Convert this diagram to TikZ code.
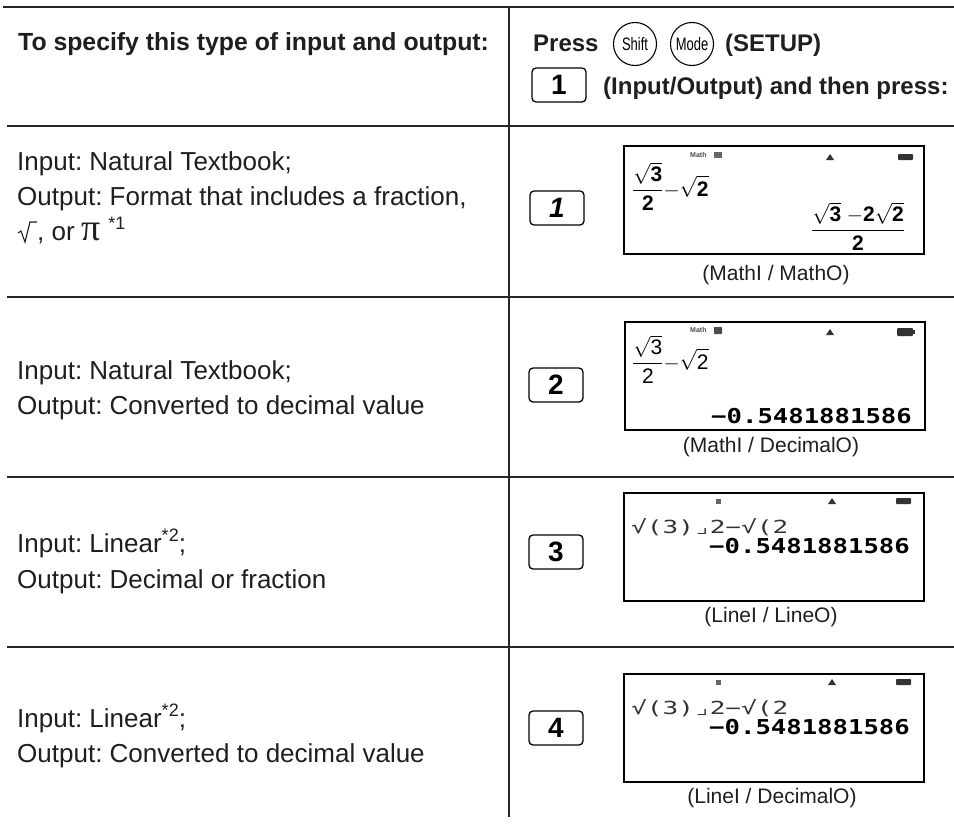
\documentclass[tikz,border=0pt]{standalone}
\usepackage{amsmath}
\usepackage{fontspec}
\setmainfont{Liberation Sans}
\newfontfamily\lcd{DejaVu Sans Mono}[FakeStretch=1.25]
\newfontfamily\lcdw{DejaVu Sans Mono}[FakeStretch=1.45]
\newfontfamily\serifpi{Liberation Serif}
\newcommand\dg[1]{\mbox{\bfseries #1}}
\newcommand\dr[1]{\mbox{#1}}
\newcommand\supmark[1]{\raisebox{11pt}{\fontsize{18}{18}\selectfont #1}}
\frenchspacing
\begin{document}
\begin{tikzpicture}[x=1pt,y=-1pt,
  rule/.style={line width=1.6pt, draw=black!85},
  vrule/.style={line width=1.3pt, draw=black!85},
  hdr/.style={font=\fontsize{24}{28}\selectfont\bfseries, anchor=base west, inner sep=0, text=black!88},
  body/.style={font=\fontsize{26}{30}\selectfont, anchor=base west, inner sep=0, text=black!88},
  keybox/.style={draw, rounded corners=4pt, line width=1.3pt, minimum width=54pt, minimum height=34pt, inner sep=0, font=\fontsize{28}{28}\selectfont\bfseries},
  circkey/.style={draw, circle, line width=1.1pt, minimum size=43pt, inner sep=0, font=\fontsize{18}{18}\selectfont},
  screen/.style={draw, line width=1.6pt, minimum width=300pt, minimum height=108pt, inner sep=0},
  caption/.style={font=\fontsize{21}{24}\selectfont, inner sep=0, text=black!88},
  lcdbig/.style={font=\lcd\bfseries\fontsize{20.5}{20}\selectfont, inner sep=0, anchor=base east},
  lcdline/.style={font=\lcdw\fontsize{18}{18}\selectfont, inner sep=0, anchor=base west, text=black!80},
  mathexpr/.style={font=\fontsize{21}{21}\selectfont, inner sep=0},
  status/.style={font=\fontsize{7}{7}\selectfont\bfseries, inner sep=0, text=black!70},
  radical/.style={line width=1.1pt, draw=black!88, line join=miter},
]
\useasboundingbox (0,0) rectangle (954,825);
\fill[white] (0,0) rectangle (954,825);

% table rules
\draw[rule] (3,7) -- (954,7);
\draw[rule] (7,126) -- (954,126);
\draw[rule] (7,297) -- (954,297);
\draw[rule] (7,477) -- (954,477);
\draw[rule] (7,647) -- (954,647);
\draw[vrule] (509,7) -- (509,817);

% header
\node[hdr, font=\fontsize{24.8}{28}\selectfont\bfseries] (hleft) at (18,50) {To specify this type of input and output:};
\node[hdr] (press) at (533,51) {Press};
\node[circkey] (shift) at (635,44) {\scalebox{0.72}[1]{Shift}};
\node[circkey] (mode) at (692,44) {\scalebox{0.72}[1]{Mode}};
\node[hdr] (setup) at (725,51) {(SETUP)};
\node[keybox] (k0) at (559,85) {1};
\node[hdr] (io) at (603,94) {(Input/Output) and then press:};

% row 1
\node[body] (r1a) at (17,170) {Input: Natural Textbook;};
\node[body] (r1b) at (17,205) {Output: Format that includes a fraction,};
\draw[radical] (18,233) -- (21,231) -- (25,242) -- (30,222) -- (37,222);
\node[body] (r1c) at (37,240) {, or \smash{\serifpi\fontsize{38}{38}\selectfont π} \smash{\supmark{*1}}};
\node[keybox] (k1) at (557,208) {\textit{1}};
\node[screen] (s1) at (774,200) {};
\node[caption] (c1) at (776,275) {(MathI / MathO)};
\node[status, anchor=west] (st1) at (690,155) {Math};
\fill[black!60] (714,152) rectangle (722,158);
\fill[black!80] (826,160) -- (834,160) -- (830,154) -- cycle;
\fill[black!80, rounded corners=0.8pt] (898,154) rectangle (913,160);
\node[mathexpr, anchor=base west] (e1) at (632,196) {$\smash[t]{\displaystyle\frac{\sqrt{\dg{3}}}{\dg{2}}{-}\sqrt{\dg{2}}}$};
\node[mathexpr, anchor=base] (o1) at (858,236) {$\displaystyle\frac{\sqrt{\dg{3}}\;{-}\dg{2}\sqrt{\dg{2}}}{\dg{2}}$};

% row 2
\node[body] (r2a) at (17,379) {Input: Natural Textbook;};
\node[body] (r2b) at (17,414) {Output: Converted to decimal value};
\node[keybox] (k2) at (556,385) {2};
\node[screen] (s2) at (775,376) {};
\node[caption] (c2) at (771,447) {(MathI / DecimalO)};
\node[status, anchor=west] (st2) at (690,330) {Math};
\fill[black!70, rounded corners=0.6pt] (714,327) rectangle (722,334);
\fill[black!80] (826,335) -- (834,335) -- (830,329) -- cycle;
\fill[black!80, rounded corners=1pt] (897,328) rectangle (913,336);
\fill[black!80] (913,330) rectangle (915,334);
\node[mathexpr, anchor=base west] (e2) at (632,369) {$\smash[t]{\displaystyle\frac{\sqrt{\dr{3}}}{\dr{2}}{-}\sqrt{\dr{2}}}$};
\node[lcdbig] (o2) at (912,423) {−0.5481881586};

% row 3
\node[body] (r3a) at (17,552) {Input: Linear\supmark{*2};};
\node[body] (r3b) at (17,588) {Output: Decimal or fraction};
\node[keybox] (k3) at (556,552) {3};
\node[screen] (s3) at (774,547) {};
\node[caption] (c3) at (771,617) {(LineI / LineO)};
\fill[black!60] (716,499) rectangle (721,504);
\fill[black!80] (828,504) -- (836,504) -- (832,498) -- cycle;
\fill[black!80, rounded corners=0.8pt] (896,498) rectangle (911,504);
\node[lcdline] (i3) at (631,533) {√(3)⌟2−√(2};
\node[lcdbig] (o3) at (910,553) {−0.5481881586};

% row 4
\node[body] (r4a) at (17,727) {Input: Linear\supmark{*2};};
\node[body] (r4b) at (17,762) {Output: Converted to decimal value};
\node[keybox] (k4) at (556,728) {4};
\node[screen] (s4) at (774,728) {};
\node[caption] (c4) at (772,798) {(LineI / DecimalO)};
\fill[black!60] (716,680) rectangle (721,685);
\fill[black!80] (828,685) -- (836,685) -- (832,679) -- cycle;
\fill[black!80, rounded corners=0.8pt] (896,679) rectangle (911,685);
\node[lcdline] (i4) at (631,714) {√(3)⌟2−√(2};
\node[lcdbig] (o4) at (910,734) {−0.5481881586};
\end{tikzpicture}
\end{document}
